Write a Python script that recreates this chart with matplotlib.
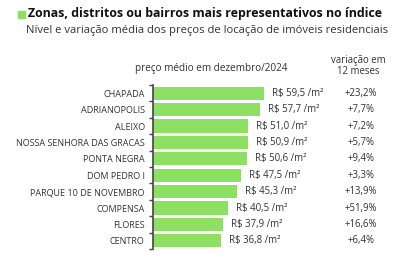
import matplotlib.pyplot as plt
import matplotlib.transforms as mtransforms
from matplotlib.patches import Rectangle

bairros = ["CHAPADA", "ADRIANOPOLIS", "ALEIXO", "NOSSA SENHORA DAS GRACAS",
           "PONTA NEGRA", "DOM PEDRO I", "PARQUE 10 DE NOVEMBRO", "COMPENSA",
           "FLORES", "CENTRO"]
precos = [59.5, 57.7, 51.0, 50.9, 50.6, 47.5, 45.3, 40.5, 37.9, 36.8]
variacao = ["+23,2%", "+7,7%", "+7,2%", "+5,7%", "+9,4%", "+3,3%",
            "+13,9%", "+51,9%", "+16,6%", "+6,4%"]

verde = "#8ee063"
cinza = "#333333"
plt.rcParams['font.family'] = ['Open Sans', 'DejaVu Sans']

fig = plt.figure(figsize=(4.0, 2.61), dpi=100)
W, H = 400, 261

# titulo
fig.patches.append(Rectangle((18 / W, 1 - 18 / H), 7 / W, 7 / H,
                             transform=fig.transFigure, color=verde))
fig.text(28 / W, 1 - 14 / H, "Zonas, distritos ou bairros mais representativos no índice",
         fontsize=8.9, fontweight='bold', color="#111111", va='center')
fig.text(26 / W, 1 - 31 / H, "Nível e variação média dos preços de locação de imóveis residenciais",
         fontsize=8.1, color=cinza, va='center')

ax = fig.add_axes([153 / W, 1 - 249 / H, 247 / W, 164 / H])
y = list(range(len(bairros)))
ax.barh(y, precos, height=0.8, color=verde)
ax.set_xlim(0, 247 / 1.86)
ax.set_ylim(len(bairros) - 0.5, -0.5)

for s in ['top', 'right', 'bottom']:
    ax.spines[s].set_visible(False)
ax.spines['left'].set_color("#444444")
ax.spines['left'].set_linewidth(1.2)
ax.set_xticks([])
ax.set_yticks(y)
ax.set_yticklabels(bairros, fontsize=6.5, color=cinza)
ax.tick_params(axis='y', which='major', length=0, pad=6)
ax.set_yticks([i - 0.5 for i in range(len(bairros) + 1)], minor=True)
ax.tick_params(axis='y', which='minor', length=3, width=1, color="#444444")

for i, v in enumerate(precos):
    ax.text(v + 4.3, i, f"R$ {v:.1f} /m²".replace(".", ","), fontsize=6.9,
            color=cinza, va='center', ha='left')

trans = mtransforms.blended_transform_factory(fig.transFigure, ax.transData)
for i, t in enumerate(variacao):
    ax.text(361 / W, i, t, fontsize=6.9, color=cinza, va='center', ha='center',
            transform=trans)

fig.text(211 / W, 1 - 68 / H, "preço médio em dezembro/2024", fontsize=7.2,
         color=cinza, ha='center', va='center')
fig.text(358 / W, 1 - 66 / H, "variação em\n12 meses", fontsize=6.9,
         color=cinza, ha='center', va='center', linespacing=1.05)

fig.savefig("out.png", dpi=100)
